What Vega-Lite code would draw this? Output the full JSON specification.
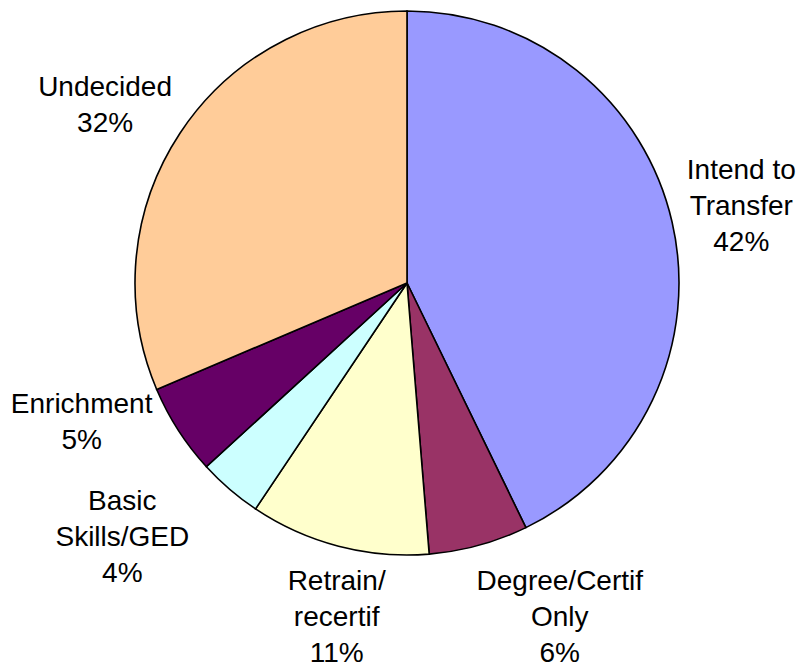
{
  "$schema": "https://vega.github.io/schema/vega-lite/v6.json",
  "width": 788,
  "height": 566,
  "autosize": {"type": "none"},
  "padding": {"left": 13, "top": 0, "right": 0, "bottom": 101},
  "background": "white",
  "config": {"view": {"stroke": null}},
  "data": {
    "values": [
      {"idx": 1, "cat": "Intend to Transfer", "value": 42.8, "label": "Intend to\nTransfer\n42%"},
      {"idx": 2, "cat": "Degree/Certif Only", "value": 5.9, "label": "Degree/Certif\nOnly\n6%"},
      {"idx": 3, "cat": "Retrain/recertif", "value": 10.7, "label": "Retrain/\nrecertif\n11%"},
      {"idx": 4, "cat": "Basic Skills/GED", "value": 3.8, "label": "Basic\nSkills/GED\n4%"},
      {"idx": 5, "cat": "Enrichment", "value": 5.4, "label": "Enrichment\n5%"},
      {"idx": 6, "cat": "Undecided", "value": 31.4, "label": "Undecided\n32%"}
    ]
  },
  "encoding": {
    "theta": {"field": "value", "type": "quantitative", "stack": true},
    "order": {"field": "idx", "type": "quantitative"}
  },
  "layer": [
    {
      "mark": {"type": "arc", "outerRadius": 272, "stroke": "black", "strokeWidth": 1.6},
      "encoding": {
        "color": {
          "field": "cat",
          "type": "nominal",
          "sort": {"field": "idx"},
          "scale": {
            "domain": ["Intend to Transfer", "Degree/Certif Only", "Retrain/recertif", "Basic Skills/GED", "Enrichment", "Undecided"],
            "range": ["#9999FF", "#993366", "#FFFFCC", "#CCFFFF", "#660066", "#FFCC99"]
          },
          "legend": null
        }
      }
    },
    {
      "mark": {"type": "text", "radius": 343, "dx": 0, "dy": -35, "font": "Liberation Sans", "fontSize": 28, "lineHeight": 36, "lineBreak": "\n", "align": "center", "baseline": "middle", "color": "black"},
      "encoding": {"text": {"field": "label"}, "opacity": {"condition": {"test": "datum.idx === 1", "value": 1}, "value": 0}}
    },
    {
      "mark": {"type": "text", "radius": 344, "dx": 62, "dy": -33, "font": "Liberation Sans", "fontSize": 28, "lineHeight": 36, "lineBreak": "\n", "align": "center", "baseline": "middle", "color": "black"},
      "encoding": {"text": {"field": "label"}, "opacity": {"condition": {"test": "datum.idx === 2", "value": 1}, "value": 0}}
    },
    {
      "mark": {"type": "text", "radius": 343, "dx": 16, "dy": -33, "font": "Liberation Sans", "fontSize": 28, "lineHeight": 36, "lineBreak": "\n", "align": "center", "baseline": "middle", "color": "black"},
      "encoding": {"text": {"field": "label"}, "opacity": {"condition": {"test": "datum.idx === 3", "value": 1}, "value": 0}}
    },
    {
      "mark": {"type": "text", "radius": 360, "dx": -50, "dy": -54, "font": "Liberation Sans", "fontSize": 28, "lineHeight": 36, "lineBreak": "\n", "align": "center", "baseline": "middle", "color": "black"},
      "encoding": {"text": {"field": "label"}, "opacity": {"condition": {"test": "datum.idx === 4", "value": 1}, "value": 0}}
    },
    {
      "mark": {"type": "text", "radius": 356, "dx": -26, "dy": -71, "font": "Liberation Sans", "fontSize": 28, "lineHeight": 36, "lineBreak": "\n", "align": "center", "baseline": "middle", "color": "black"},
      "encoding": {"text": {"field": "label"}, "opacity": {"condition": {"test": "datum.idx === 5", "value": 1}, "value": 0}}
    },
    {
      "mark": {"type": "text", "radius": 350, "dx": -10, "dy": -2, "font": "Liberation Sans", "fontSize": 28, "lineHeight": 36, "lineBreak": "\n", "align": "center", "baseline": "middle", "color": "black"},
      "encoding": {"text": {"field": "label"}, "opacity": {"condition": {"test": "datum.idx === 6", "value": 1}, "value": 0}}
    }
  ]
}
